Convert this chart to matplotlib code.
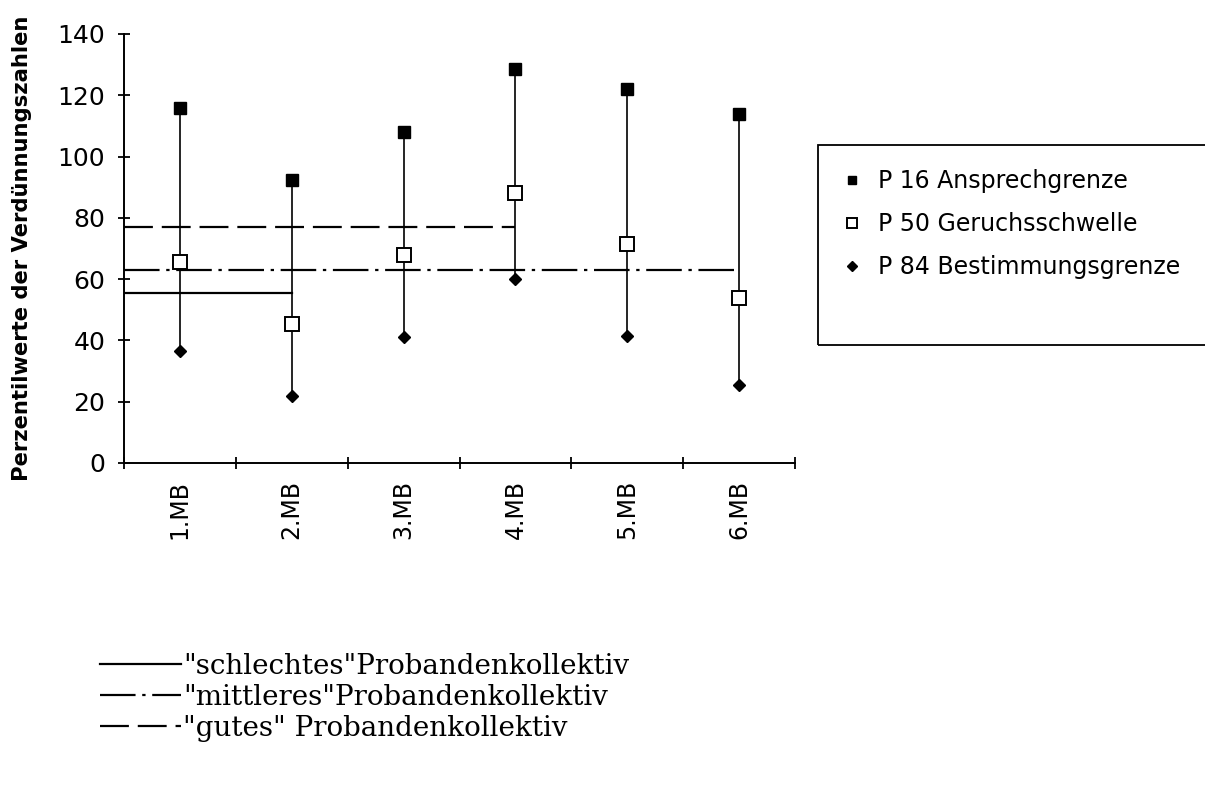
import matplotlib.pyplot as plt
import matplotlib as mpl
import matplotlib.ticker as ticker
from matplotlib.patches import Rectangle

# -----------------------------
# THEME (plain black scan look)
# -----------------------------
mpl.rcParams['font.family'] = 'DejaVu Sans'
mpl.rcParams['axes.linewidth'] = 1.4

# -----------------------------
# DATA
# -----------------------------
categories = ["1.MB", "2.MB", "3.MB", "4.MB", "5.MB", "6.MB"]

p16 = [116, 92.5, 108, 128.5, 122, 114]     # Ansprechgrenze
p50 = [65.5, 45.5, 68, 88, 71.5, 54]        # Geruchsschwelle
p84 = [36.5, 22, 41, 60, 41.5, 25.5]        # Bestimmungsgrenze

series_labels = ["P 16 Ansprechgrenze", "P 50 Geruchsschwelle", "P 84 Bestimmungsgrenze"]

group_labels = ['"schlechtes"Probandenkollektiv',
                '"mittleres"Probandenkollektiv',
                '"gutes" Probandenkollektiv']
group_levels = [55.5, 63, 77]
group_last = [1, 5, 3]      # last MB covered by the group line

y_ticks = [0, 20, 40, 60, 80, 100, 120, 140]

group_styles = ['-', (0, (16, 3, 1.5, 3)), (0, (13, 4))]

# =========================================================
# FIGURE
# =========================================================
fig = plt.figure(figsize=(12.05, 8.02), dpi=100)
ax = fig.add_axes([124 / 1205, 1 - 463 / 802, 671 / 1205, 429 / 802])

xpos = [i + 0.5 for i in range(len(categories))]

# range lines P84 -> P16
ax.vlines(xpos, p84, p16, colors='black', lw=1.2, zorder=2)

# group lines
group_handles = []
for label, level, last, style in zip(group_labels, group_levels, group_last, group_styles):
    h, = ax.plot([0, xpos[last]], [level, level], color='black', lw=1.6,
                 linestyle=style, label=label, zorder=2)
    group_handles.append(h)

# percentile markers
h16, = ax.plot(xpos, p16, ls='none', marker='s', ms=8, color='black',
               label=series_labels[0], zorder=3)
h50, = ax.plot(xpos, p50, ls='none', marker='s', ms=9.5, mfc='white',
               mec='black', mew=1.4, label=series_labels[1], zorder=3)
h84, = ax.plot(xpos, p84, ls='none', marker='D', ms=6.5, color='black',
               label=series_labels[2], zorder=3)

# axes
ax.set_xlim(0, len(categories))
ax.set_ylim(0, 140)
ax.spines['top'].set_visible(False)
ax.spines['right'].set_visible(False)

ax.set_yticks(y_ticks)
ax.tick_params(axis='y', direction='inout', length=9, width=1.3,
               labelsize=18, pad=9)

ax.xaxis.set_major_locator(ticker.FixedLocator(range(len(categories) + 1)))
ax.xaxis.set_major_formatter(ticker.NullFormatter())
ax.xaxis.set_minor_locator(ticker.FixedLocator(xpos))
ax.xaxis.set_minor_formatter(ticker.FixedFormatter(categories))
ax.tick_params(axis='x', which='major', direction='inout', length=9, width=1.3)
ax.tick_params(axis='x', which='minor', length=0, labelsize=17, pad=12,
               labelrotation=90)

ax.set_ylabel("Perzentilwerte der Verdünnungszahlen", fontsize=15.2,
              fontweight='bold')
ax.yaxis.set_label_coords(-0.137, 0.5)

# -----------------------------
# MARKER LEGEND (boxed, cut at right edge)
# -----------------------------
fig.add_artist(Rectangle((818 / 1205, 1 - 345 / 802), 0.5, 200 / 802,
                         transform=fig.transFigure, fill=False,
                         ec='black', lw=1.3, clip_on=False))

fig.legend(handles=[h16, h50, h84], loc='upper left',
           bbox_to_anchor=(842 / 1205, 1 - 169 / 802),
           frameon=False, borderpad=0, borderaxespad=0,
           handlelength=0.85, handletextpad=0.68, labelspacing=0.8,
           markerscale=0.75,
           prop={'family': 'DejaVu Sans', 'size': 17})

# -----------------------------
# LINE LEGEND (bottom)
# -----------------------------
fig.legend(handles=group_handles, loc='upper left',
           bbox_to_anchor=(100 / 1205, 1 - 653 / 802),
           frameon=False, borderpad=0, borderaxespad=0,
           handlelength=2.9, handletextpad=0.1, labelspacing=0.14,
           prop={'family': 'DejaVu Serif', 'size': 20})

fig.savefig("out.png", dpi=100, facecolor='white')
